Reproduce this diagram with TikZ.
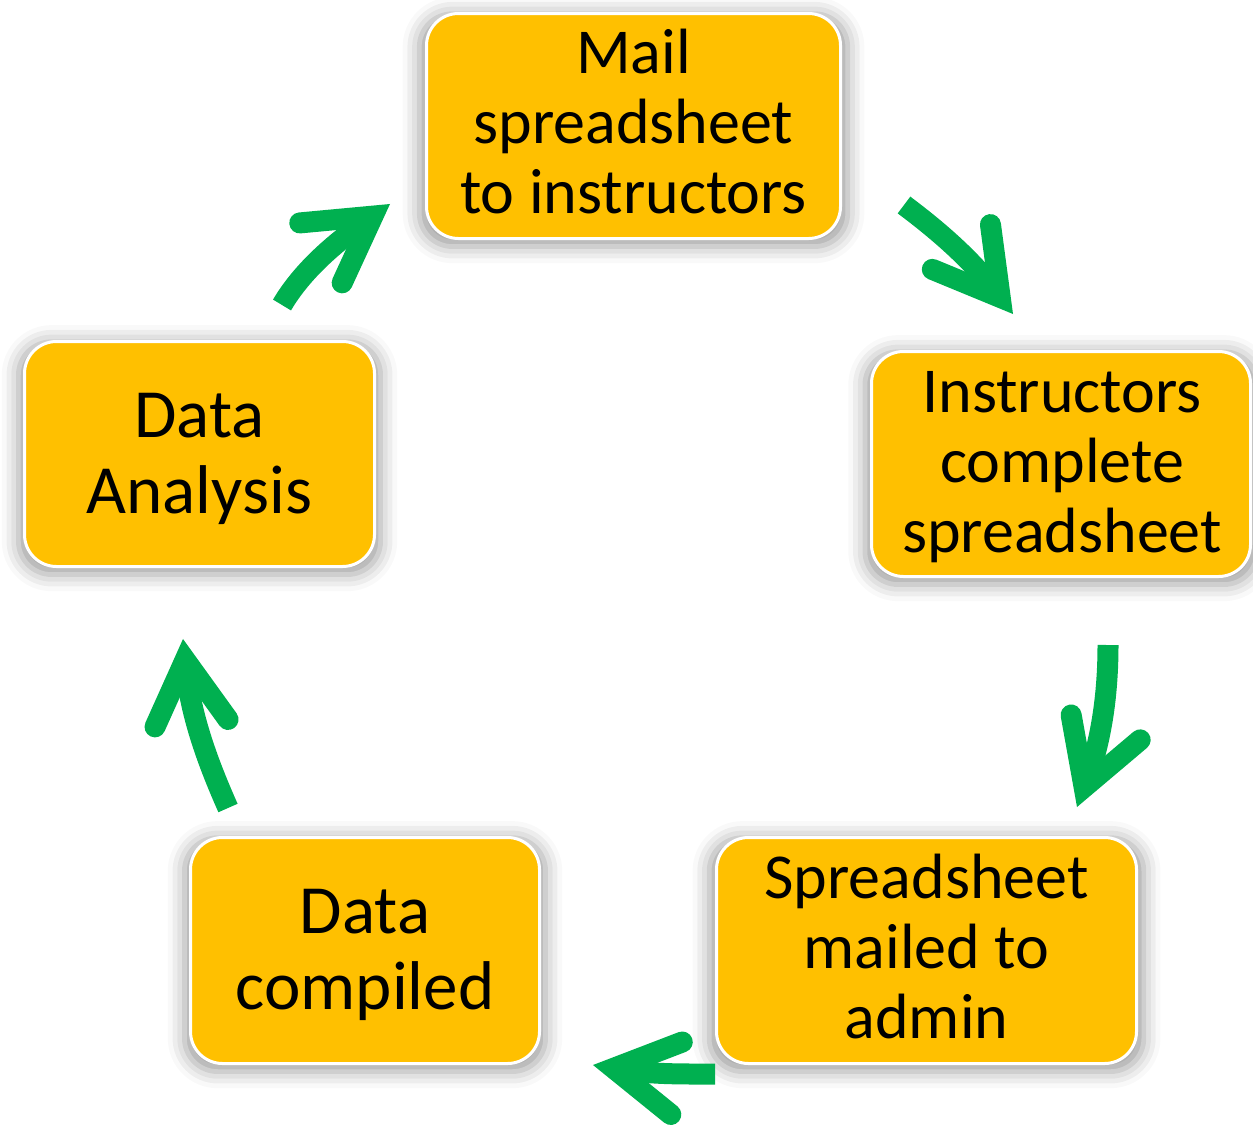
\documentclass[tikz,border=0pt]{standalone}
\usepackage{fontspec}
\setmainfont{Carlito}
\usetikzlibrary{shadows.blur}
\definecolor{boxorange}{HTML}{FFC000}
\definecolor{arrowgreen}{HTML}{00B050}
\newcommand{\greenhead}[2]{%
  \begin{scope}[shift={(#1)}, rotate=#2]
    \draw[barbs] (-84.6,36.7) -- (-21,0) -- (-84.6,-36.7);
  \end{scope}}
\begin{document}
\begin{tikzpicture}[x=1pt,y=-1pt,
  stepbox/.style={rectangle, rounded corners=32pt, fill=boxorange, draw=white, line width=3pt,
    inner sep=0pt,
    blur shadow={shadow xshift=0pt, shadow yshift=-4pt, shadow blur radius=16pt,
      shadow scale=1.035, shadow opacity=38}},
  steptext/.style={align=center, inner sep=0pt},
  threeline/.style={font=\fontsize{64}{70}\selectfont},
  twoline/.style={font=\fontsize{69}{76}\selectfont},
  shaft/.style={draw=arrowgreen, line width=21pt},
  barbs/.style={draw=arrowgreen, line width=21pt, line cap=round, line join=miter}]
\useasboundingbox (0,0) rectangle (1253,1127);

% boxes
\node[stepbox, minimum width=414pt, minimum height=225pt] (mail) at (633.5,126) {};
\node[stepbox, minimum width=379pt, minimum height=225pt] (complete) at (1061,464) {};
\node[stepbox, minimum width=420pt, minimum height=226pt] (admin) at (926.5,950.5) {};
\node[stepbox, minimum width=349pt, minimum height=226pt] (compiled) at (365,950.5) {};
\node[stepbox, minimum width=350pt, minimum height=225pt] (analysis) at (199.5,454) {};

% texts
\node[steptext, threeline] (mailtext) at (633.5,122) {Mail\\spreadsheet\\to instructors};
\node[steptext, threeline] (completetext) at (1062,467) {Instructors\\complete\\spreadsheet};
\node[steptext, threeline] (admintext) at (926.5,946.5) {Spreadsheet\\mailed to\\admin};
\node[steptext, twoline] (compiledtext) at (365,955) {Data\\compiled};
\node[steptext, twoline] (analysistext) at (199.5,459) {Data\\Analysis};

% arrow end points
\coordinate (s1) at (904,205);   \coordinate (e1) at (994.7,290.2);  \coordinate (t1) at (1013,314);
\coordinate (s2) at (1108,645);  \coordinate (e2) at (1087.2,778.8); \coordinate (t2) at (1077,807);
\coordinate (s3) at (715,1074);  \coordinate (e3) at (622.6,1069.7); \coordinate (t3) at (593,1065);
\coordinate (s4) at (228,808);   \coordinate (e4) at (186,668.9);    \coordinate (t4) at (183,639);
\coordinate (s5) at (282,305);   \coordinate (e5) at (365.5,221.3);  \coordinate (t5) at (390,204);

% shafts
\draw[shaft] (s1) .. controls (936.8,229.6) and (969.7,257.7) .. (e1);
\draw[shaft] (s2) .. controls (1108,690) and (1102.5,736.5) .. (e2);
\draw[shaft] (s3) .. controls (684,1074) and (653.2,1074.5) .. (e3);
\draw[shaft] (s4) .. controls (208.5,764.1) and (190.8,716.7) .. (e4);
\draw[shaft] (s5) .. controls (301.8,271.4) and (333.7,243.8) .. (e5);

% heads
\greenhead{t1}{-52.4}
\greenhead{t2}{-109.8}
\greenhead{t3}{171}
\greenhead{t4}{95.8}
\greenhead{t5}{35.3}
\end{tikzpicture}
\end{document}
